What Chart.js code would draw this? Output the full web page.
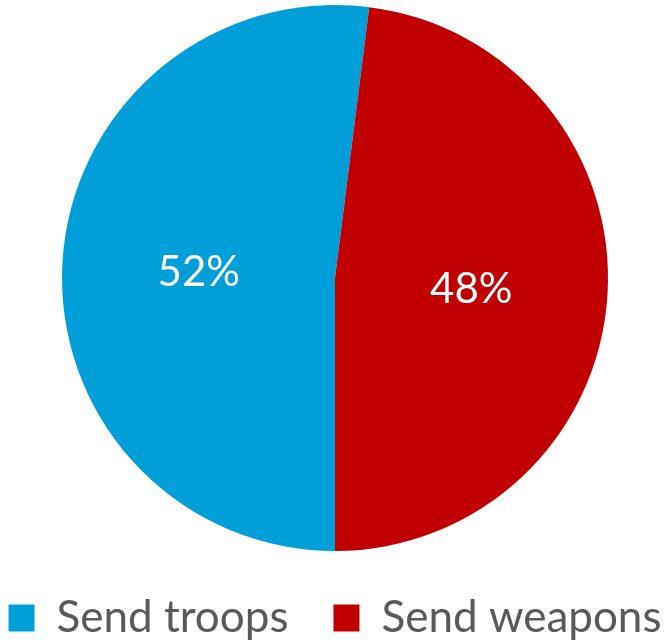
<!DOCTYPE html>
<html>
<head>
<meta charset="utf-8">
<script src="https://cdn.jsdelivr.net/npm/chart.js@4/dist/chart.umd.min.js"></script>
<style>
  html, body { margin: 0; padding: 0; background: #ffffff; }
  #wrap { width: 670px; height: 640px; }
</style>
</head>
<body>
<div id="wrap"><canvas id="c" width="670" height="640"></canvas></div>
<script>
const categories = ["Send troops", "Send weapons"];
const shares = [52, 48];
const sliceColors = ["#009FDA", "#C00000"];

const pieLabels = {
  id: 'pieLabels',
  afterDatasetsDraw(chart) {
    const ctx = chart.ctx;
    const meta = chart.getDatasetMeta(0);
    const values = chart.data.datasets[0].data;
    ctx.save();
    ctx.font = '42px Lato';
    ctx.fillStyle = '#FFFFFF';
    ctx.textAlign = 'center';
    ctx.textBaseline = 'middle';
    meta.data.forEach((arc, i) => {
      const p = arc.tooltipPosition();
      ctx.fillText(values[i] + '%', p.x, p.y + 3);
    });
    ctx.restore();
  }
};

new Chart(document.getElementById('c'), {
  type: 'pie',
  data: {
    labels: categories,
    datasets: [{
      data: shares,
      backgroundColor: sliceColors,
      borderWidth: 0,
      hoverOffset: 0
    }]
  },
  options: {
    responsive: false,
    animation: false,
    rotation: 180,
    layout: { padding: { top: 5, bottom: -10, left: -45, right: -45 } },
    plugins: {
      tooltip: { enabled: false },
      legend: {
        position: 'bottom',
        labels: {
          boxWidth: 26,
          boxHeight: 27,
          padding: 45,
          color: '#595959',
          font: { family: 'Lato', size: 44 }
        }
      }
    },
    events: []
  },
  plugins: [pieLabels]
});
</script>
</body>
</html>
